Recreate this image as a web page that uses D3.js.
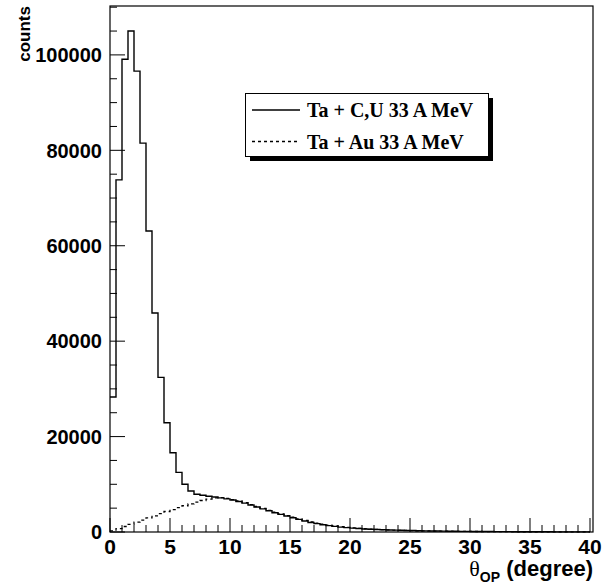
<!DOCTYPE html>
<html>
<head>
<meta charset="utf-8">
<script src="https://cdn.jsdelivr.net/npm/d3@7"></script>
<style>
  body { margin: 0; background: #fff; }
  svg { display: block; }
</style>
</head>
<body>
<div id="chart"></div>
<script>
// ======================
// 1. DATA
// ======================
const binWidth = 0.5; // degrees per bin, bins start at 0

// Ta + C,U 33 A MeV (solid)
const countsCU = [
  28300, 73800, 99100, 105000, 96600, 81500, 63100, 45900, 32400, 22900,
  16600, 12500, 10000, 8600, 7900, 7700, 7500, 7350, 7150, 6950,
  6700, 6400, 6050, 5650, 5250, 4850, 4450, 4050, 3700, 3350,
  3000, 2650, 2300, 2000, 1750, 1520, 1330, 1170, 1030, 910,
  810, 720, 640, 580, 520, 470, 430, 390, 360, 330,
  300, 270, 245, 225, 205, 185, 170, 155, 140, 128,
  117, 107, 98, 90, 83, 76, 70, 64, 59, 54,
  50, 46, 42, 39, 36, 33, 30, 28, 26, 24
];

// Ta + Au 33 A MeV (dashed)
const countsAu = [
  250, 700, 1150, 1600, 2050, 2500, 2950, 3400, 3850, 4300,
  4700, 5100, 5500, 5900, 6250, 6600, 6900, 7150, 7200, 7050,
  6800, 6500, 6150, 5750, 5350, 4950, 4550, 4150, 3800, 3450,
  3100, 2750, 2420, 2120, 1860, 1630, 1430, 1260, 1110, 980,
  870, 770, 680, 610, 545, 490, 440, 395, 355, 320,
  290, 262, 238, 216, 196, 178, 162, 148, 135, 123,
  112, 102, 93, 85, 78, 71, 65, 59, 54, 49,
  45, 41, 37, 34, 31, 28, 26, 24, 22, 20
];

const xMajorTicks = [0, 5, 10, 15, 20, 25, 30, 35, 40];
const yMajorTicks = [0, 20000, 40000, 60000, 80000, 100000];
const legendLabels = ["Ta + C,U 33 A MeV", "Ta + Au 33 A MeV"];

// ======================
// 2. CONFIGURATION
// ======================
const config = {
  width: 608,
  height: 584,
  frame: { left: 110, right: 593, top: 6, bottom: 532 },
  xMax: 40.25,
  yMax: 110250,
  sans: "'Liberation Sans', Arial, Helvetica, sans-serif",
  serif: "'Liberation Serif', 'Times New Roman', serif"
};

// ======================
// 3. DRAW
// ======================
function drawChart() {
  const f = config.frame;

  const svg = d3.select("#chart")
    .append("svg")
    .attr("width", config.width)
    .attr("height", config.height);

  const x = d3.scaleLinear().domain([0, config.xMax]).range([f.left, f.right]);
  const y = d3.scaleLinear().domain([0, config.yMax]).range([f.bottom, f.top]);

  // Histograms
  function stepPath(values) {
    const path = d3.path();
    values.forEach((v, i) => {
      const x0 = x(i * binWidth), x1 = x((i + 1) * binWidth);
      if (i === 0) path.moveTo(x0, y(v));
      else path.lineTo(x0, y(v));
      path.lineTo(x1, y(v));
    });
    return path.toString();
  }

  svg.append("path")
    .attr("d", stepPath(countsAu))
    .attr("fill", "none")
    .attr("stroke", "#000")
    .attr("stroke-width", 1.3)
    .attr("stroke-dasharray", "3,3");

  svg.append("path")
    .attr("d", stepPath(countsCU))
    .attr("fill", "none")
    .attr("stroke", "#000")
    .attr("stroke-width", 1.4);

  // Axes (ROOT-style ticks pointing inward)
  const xAxis = svg.append("g").attr("transform", `translate(0,${f.bottom})`);
  xAxis.selectAll(".minor")
    .data(d3.range(0, 41, 1))
    .enter().append("line")
    .attr("x1", d => x(d)).attr("x2", d => x(d))
    .attr("y1", 0).attr("y2", d => d % 5 === 0 ? -14 : -7)
    .attr("stroke", "#000");
  xAxis.selectAll(".lbl")
    .data(xMajorTicks)
    .enter().append("text")
    .attr("x", d => x(d))
    .attr("y", 22)
    .attr("text-anchor", "middle")
    .style("font", `bold 21px ${config.sans}`)
    .text(d => d);

  const yAxis = svg.append("g").attr("transform", `translate(${f.left},0)`);
  yAxis.selectAll(".minor")
    .data(d3.range(0, 110001, 5000))
    .enter().append("line")
    .attr("y1", d => y(d)).attr("y2", d => y(d))
    .attr("x1", 0).attr("x2", d => d % 20000 === 0 ? 15 : 7)
    .attr("stroke", "#000");
  yAxis.selectAll(".lbl")
    .data(yMajorTicks)
    .enter().append("text")
    .attr("x", -8)
    .attr("y", d => y(d))
    .attr("dy", "0.36em")
    .attr("text-anchor", "end")
    .style("font", `bold 20px ${config.sans}`)
    .text(d => d);

  // Frame
  svg.append("rect")
    .attr("x", f.left).attr("y", f.top)
    .attr("width", f.right - f.left).attr("height", f.bottom - f.top)
    .attr("fill", "none")
    .attr("stroke", "#000")
    .attr("stroke-width", 1.2);

  // Axis titles
  svg.append("text")
    .attr("transform", `translate(30,${f.top}) rotate(-90)`)
    .attr("text-anchor", "end")
    .style("font", `bold 17px ${config.sans}`)
    .text("counts");

  const xt = svg.append("text")
    .attr("x", f.right)
    .attr("y", 576)
    .attr("text-anchor", "end")
    .style("font", `bold 22px ${config.sans}`);
  xt.append("tspan").style("font", `22px ${config.serif}`).text("θ");
  xt.append("tspan").attr("dy", 6).style("font-size", "14px").text("OP");
  xt.append("tspan").attr("dy", -6).text(" (degree)");

  // Legend
  const lg = svg.append("g");
  lg.append("rect")
    .attr("x", 250).attr("y", 98).attr("width", 243).attr("height", 63)
    .attr("fill", "#000");
  lg.append("rect")
    .attr("x", 245.5).attr("y", 93.5).attr("width", 243).attr("height", 63)
    .attr("fill", "#fff").attr("stroke", "#000");

  lg.selectAll(".sample")
    .data(legendLabels)
    .enter().append("line")
    .attr("x1", 252).attr("x2", 300)
    .attr("y1", (d, i) => 110 + i * 31.5).attr("y2", (d, i) => 110 + i * 31.5)
    .attr("stroke", "#000")
    .attr("stroke-width", 1.3)
    .attr("stroke-dasharray", (d, i) => i === 0 ? null : "3,3");

  lg.selectAll(".ltxt")
    .data(legendLabels)
    .enter().append("text")
    .attr("x", 307)
    .attr("y", (d, i) => 117 + i * 31.5)
    .style("font", `bold 20px ${config.serif}`)
    .text(d => d);
}

drawChart();
</script>
</body>
</html>
